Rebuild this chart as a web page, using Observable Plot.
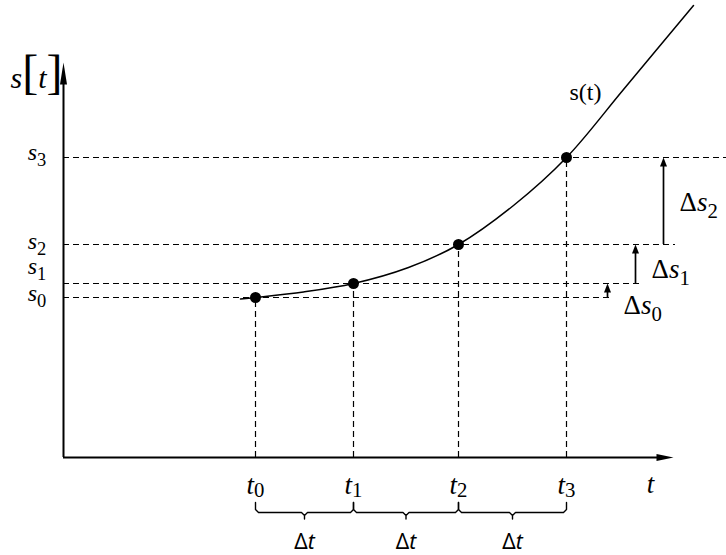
<!DOCTYPE html>
<html><head><meta charset="utf-8">
<script src="https://cdn.jsdelivr.net/npm/d3@7"></script>
<script src="https://cdn.jsdelivr.net/npm/@observablehq/plot@0.6"></script>
<style>body{margin:0;background:#fff} svg{display:block}</style>
</head><body><div id="chart"></div>
<script>
// ---- data ----
const tNames = ["t_0", "t_1", "t_2", "t_3"];
const sNames = ["s_0", "s_1", "s_2", "s_3"];
const tVals = [1.92, 2.90, 3.95, 5.03];
const sVals = [1.60, 1.74, 2.13, 3.00];
const curveT = [1.77, 1.92, 2.40, 2.90, 3.45, 3.95, 4.50, 5.03, 5.60, 6.30];
const curveS = [1.585, 1.60, 1.655, 1.74, 1.90, 2.13, 2.52, 3.00, 3.68, 4.52];
const dashEndT = [5.49, 5.79, 6.12, 6.63];
const sLabelS = [1.64, 1.915, 2.16, 3.05];
const deltaNames = ["Δs_0", "Δs_1", "Δs_2"];
const deltaArrowT = [5.44, 5.72, 6.00];
const deltaLabelS = [1.52, 1.88, 2.55];
const axisNames = ["t", "s[t]", "s(t)"];

// ---- layout ----
const axisTipT = 6.10, axisTipS = 3.95;
const braceTop = -0.45, braceMid = -0.55, braceTick = -0.615;
const serif = "'Liberation Serif', 'Times New Roman', Times, serif";

const upHead = (len, hw) => ({draw(c) { c.moveTo(0, 0); c.lineTo(-hw, len); c.lineTo(hw, len); c.closePath(); }});
const rightHead = (len, hw) => ({draw(c) { c.moveTo(0, 0); c.lineTo(-len, -hw); c.lineTo(-len, hw); c.closePath(); }});

const curve = curveT.map((t, i) => ({t, s: curveS[i]}));
const pts = tVals.map((t, i) => ({t, s: sVals[i]}));
const arrows = deltaArrowT.map((t, i) => ({t, s1: sVals[i], s2: sVals[i + 1], name: deltaNames[i], ly: deltaLabelS[i]}));

const brace = [];
for (let i = 0; i < 3; i++) {
  const a = tVals[i], b = tVals[i + 1], m = (a + b) / 2;
  [[a, braceTop], [a, -0.52], [a + 0.03, braceMid], [m - 0.03, braceMid], [m, -0.58], [m, braceTick],
   [m, -0.58], [m + 0.03, braceMid], [b - 0.03, braceMid], [b, -0.52], [b, braceTop]]
   .forEach(([x, y]) => brace.push({x, y, g: i}));
}
const mids = [0, 1, 2].map(i => (tVals[i] + tVals[i + 1]) / 2);

const dash = "6,4";
const chart = Plot.plot({
  width: 726, height: 555,
  marginLeft: 63, marginRight: 0, marginTop: 0, marginBottom: 98,
  style: {fontFamily: serif},
  x: {domain: [0, 6.63], axis: null},
  y: {domain: [0, 4.57], axis: null},
  marks: [
    // dashed guides
    Plot.ruleY(sVals, {y: d => d, x1: 0, x2: dashEndT, stroke: "black", strokeWidth: 1.2, strokeDasharray: dash}),
    Plot.ruleX(pts, {x: "t", y1: 0, y2: "s", stroke: "black", strokeWidth: 1.2, strokeDasharray: dash}),
    // axes
    Plot.ruleY([0], {x1: 0, x2: axisTipT - 0.1, stroke: "black", strokeWidth: 2}),
    Plot.ruleX([0], {y1: 0, y2: axisTipS - 0.12, stroke: "black", strokeWidth: 2}),
    Plot.dot([0], {x: axisTipT, y: 0, symbol: rightHead(17, 3.5), r: 5, fill: "black", stroke: "none"}),
    Plot.dot([0], {x: 0, y: axisTipS, symbol: upHead(22, 3.5), r: 5, fill: "black", stroke: "none"}),
    // curve and points
    Plot.line(curve, {x: "t", y: "s", curve: "catmull-rom", stroke: "black", strokeWidth: 1.5}),
    Plot.dot(pts, {x: "t", y: "s", r: 5.5, fill: "black", stroke: "none"}),
    // delta arrows
    Plot.ruleX(arrows, {x: "t", y1: "s1", y2: d => d.s2 - 0.05, stroke: "black", strokeWidth: 1.7}),
    Plot.dot(arrows, {x: "t", y: "s2", symbol: upHead(9, 3.5), r: 5, fill: "black", stroke: "none"}),
    Plot.text(arrows, {x: "t", y: "ly", text: "name", dx: 16, textAnchor: "start", fontSize: 27, fontFamily: serif, fill: "black"}),
    // braces
    Plot.line(brace, {x: "x", y: "y", z: "g", stroke: "black", strokeWidth: 1.4}),
    Plot.text(mids, {x: d => d, y: -0.85, text: () => "Δt", fontSize: 21, fontFamily: "'Noto Sans', 'Open Sans', sans-serif", fill: "black"}),
    // labels
    Plot.text(sNames, {x: -0.265, y: sLabelS, text: d => d, fontSize: 24, fontFamily: serif, fill: "black"}),
    Plot.text(tNames, {x: tVals, y: -0.28, text: d => d, fontSize: 27, fontFamily: serif, fill: "black"}),
    Plot.text([axisNames[0]], {x: 5.87, y: -0.27, text: d => d, fontSize: 27, fontFamily: serif, fill: "black"}),
    Plot.text([axisNames[1]], {x: -0.27, y: 3.79, text: d => d, fontSize: 30, fontFamily: serif, fill: "black"}),
    Plot.text([axisNames[2]], {x: 5.22, y: 3.65, text: d => d, fontSize: 24, fontFamily: serif, fill: "black"})
  ]
});

// rich text: italic letters, subscripts, large brackets
chart.querySelectorAll("text").forEach(el => {
  const str = el.textContent;
  if (str === "s(t)") return;
  el.textContent = "";
  const subShift = str.startsWith("t") ? "0.12em" : "0.34em";
  for (let i = 0; i < str.length; i++) {
    const c = str[i];
    const ts = document.createElementNS("http://www.w3.org/2000/svg", "tspan");
    if (c === "_") {
      ts.textContent = str[++i];
      ts.setAttribute("font-size", "0.77em");
      ts.setAttribute("dy", subShift);
      ts.setAttribute("font-style", "normal");
    } else if (c === "[" || c === "]") {
      ts.textContent = c;
      ts.setAttribute("font-size", "1.6em");
      ts.setAttribute("font-style", "normal");
    } else if (/[a-z]/.test(c)) {
      ts.textContent = c;
      ts.setAttribute("font-style", "italic");
    } else {
      ts.textContent = c;
      ts.setAttribute("font-style", "normal");
    }
    el.appendChild(ts);
  }
});

document.getElementById("chart").appendChild(chart);
</script>
</body></html>
